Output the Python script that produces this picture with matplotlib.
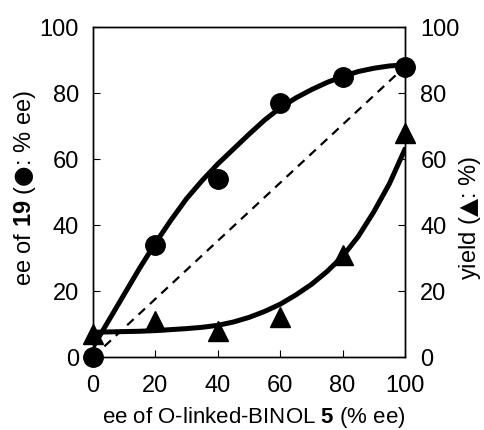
import matplotlib
matplotlib.use("Agg")
import matplotlib.pyplot as plt

plt.rcParams['font.family'] = ['Liberation Sans', 'DejaVu Sans']
plt.rcParams['mathtext.fontset'] = 'custom'
plt.rcParams['mathtext.rm'] = 'Liberation Sans'
plt.rcParams['mathtext.bf'] = 'Liberation Sans:bold'
plt.rcParams['mathtext.sf'] = 'DejaVu Sans'

# data points
x_pts = [0, 20, 40, 60, 80, 100]
ee19 = [0, 34, 54, 77, 85, 88]
yield_pct = [7, 11, 8, 12, 31, 68]

# fitted curves
x_fit = [0, 5, 10, 15, 20, 25, 30, 35, 40, 45, 50, 55, 60, 65, 70, 75, 80, 85, 90, 95, 100]
ee_fit = [3, 11, 19, 27, 34.5, 41.5, 48, 53.5, 58.5, 63, 67.5, 71.8, 75.5, 78.5, 81,
          83.2, 85, 86.5, 87.5, 88.2, 88.5]
yield_fit = [7.5, 7.6, 7.7, 7.8, 8, 8.3, 8.6, 9.0, 9.6, 10.6, 12, 13.8, 16, 18.8, 22,
             25.9, 30.5, 36.5, 44, 52.5, 63]

# dashed reference line
x_ref = [0, 100]
y_ref = [0, 88]

xticks = [0, 20, 40, 60, 80, 100]
yticks = [0, 20, 40, 60, 80, 100]

fig = plt.figure(figsize=(4.85, 4.3), dpi=100)
ax = fig.add_axes([93/485, 1-357/430, 312/485, 330/430])

ax.plot(x_ref, y_ref, color='black', lw=1.6, ls=(0, (4, 3)))
ax.plot(x_fit, ee_fit, color='black', lw=3.6, solid_joinstyle='round', solid_capstyle='round')
ax.plot(x_fit, yield_fit, color='black', lw=3.6, solid_joinstyle='round', solid_capstyle='round')
ax.plot(x_pts, ee19, 'o', color='black', ms=14, clip_on=False, zorder=5)
ax.plot(x_pts, yield_pct, '^', color='black', ms=15, clip_on=False, zorder=5)

ax.set_xlim(0, 100)
ax.set_ylim(0, 100)
ax.set_xticks(xticks)
ax.set_yticks(yticks)
ax.tick_params(direction='in', length=5, width=0.8, labelsize=17)
ax.tick_params(axis='x', pad=13)
ax.tick_params(axis='y', pad=10)
for s in ax.spines.values():
    s.set_linewidth(1.0)

ax2 = ax.twinx()
ax2.set_ylim(0, 100)
ax2.set_yticks(yticks)
ax2.tick_params(direction='in', length=5, width=0.8, labelsize=17, pad=11)
for s in ax2.spines.values():
    s.set_linewidth(1.0)

fig.text(254/485, 1-417/430, r'ee of O-linked-BINOL $\mathbf{5}$ (% ee)', ha='center', va='center', fontsize=16)
fig.text(25/485, 1-188/430, r'ee of $\mathbf{19}$ ($\mathsf{●}$: % ee)', ha='center', va='center', rotation=90, fontsize=17)
fig.text(470/485, 1-218/430, r'yield ($\mathsf{▲}$: %)', ha='center', va='center', rotation=90, fontsize=17)

fig.savefig('out.png', dpi=100)
